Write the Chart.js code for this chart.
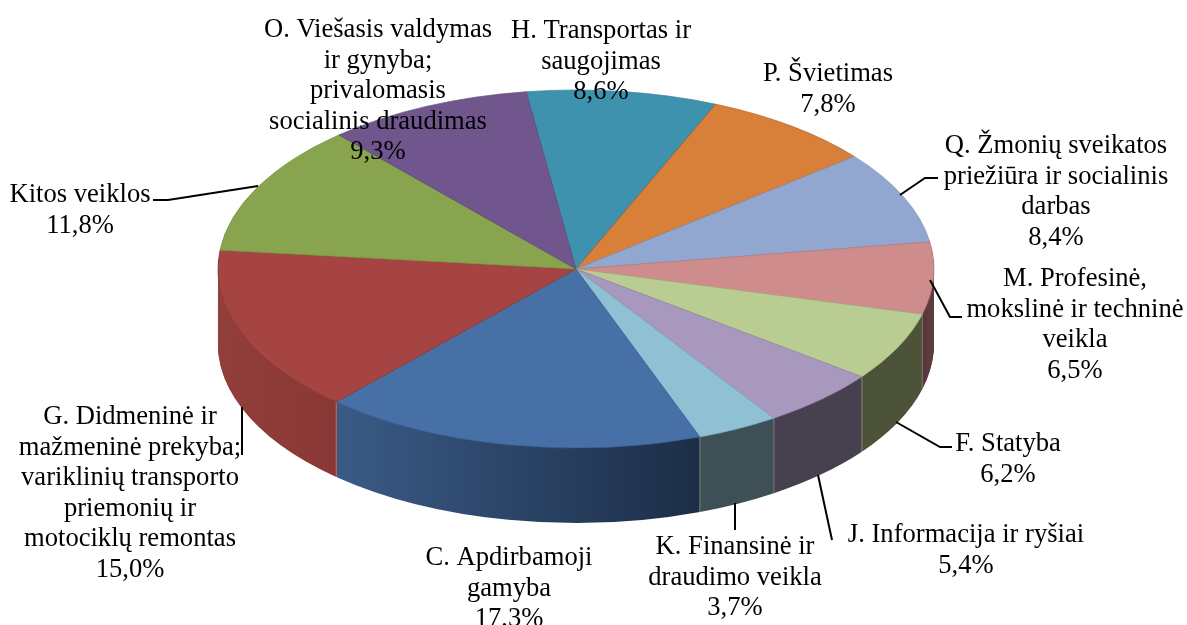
<!DOCTYPE html>
<html>
<head>
<meta charset="utf-8">
<script src="https://cdn.jsdelivr.net/npm/chart.js@4"></script>
<style>
  body { margin: 0; background: #fff; }
  canvas { display: block; }
</style>
</head>
<body>
<canvas id="pie3d" width="1187" height="625"></canvas>
<script>
// Slices, clockwise, starting from the H/O border
const categories = [
  "H. Transportas ir\nsaugojimas",
  "P. Švietimas",
  "Q. Žmonių sveikatos\npriežiūra ir socialinis\ndarbas",
  "M. Profesinė,\nmokslinė ir techninė\nveikla",
  "F. Statyba",
  "J. Informacija ir ryšiai",
  "K. Finansinė ir\ndraudimo veikla",
  "C. Apdirbamoji\ngamyba",
  "G. Didmeninė ir\nmažmeninė prekyba;\nvariklinių transporto\npriemonių ir\nmotociklų remontas",
  "Kitos veiklos",
  "O. Viešasis valdymas\nir gynyba;\nprivalomasis\nsocialinis draudimas",
];
const shares = [8.6, 7.8, 8.4, 6.5, 6.2, 5.4, 3.7, 17.3, 15.0, 11.8, 9.3];

const topColors = ["#3f92ad", "#d8803a", "#92a7cf", "#cf8c8c", "#b9cd92", "#a898bd", "#8fc0d3", "#4670a6", "#a54442", "#88a44e", "#70568c"];
const edgeColors = ["#37809a", "#a8602a", "#8197bf", "#b97c7c", "#a5b982", "#9687aa", "#7fadc0", "#3d6293", "#8a4024", "#7a9445", "#644d7e"];
// side wall colours at the start and the end of each slice's arc
const sideStart = ["#2c677a", "#98592a", "#66758f", "#5e3c3e", "#4d5339", "#46404f", "#3e5056", "#1c2d46", "#893835", "#5f7336", "#4e3c62"];
const sideEnd = ["#2c677a", "#98592a", "#66758f", "#553638", "#4d5339", "#46404f", "#3e5056", "#3a5b87", "#923e3a", "#5f7336", "#4e3c62"];

// Label layout: centre x and middle of the first line
const labelX = [601, 828, 1056, 1075, 1008, 966, 735, 509, 130, 80, 378];
const labelY = [31, 74, 146, 279, 444, 535, 547, 558, 417, 195, 30];
const lineHeight = 30.6;

// Leader lines as x, y, x, y ...
const leaders = [
  [153, 200, 168, 200, 258, 186],
  [900, 195, 925, 178, 938, 178],
  [930, 280, 950, 317, 962, 317],
  [896, 422, 940, 447, 952, 447],
  [818, 475, 832, 540],
  [735, 503, 735, 530],
  [242, 407, 242, 455],
];

// Ellipse geometry of the tilted pie
const pieX = 576;
const pieY = 269;
const radiusX = 358;
const radiusY = 179;
const depth = 75;

function percentText(value) {
  return value.toFixed(1).replace(".", ",") + "%";
}

// Run draw() with the chart's round pie mapped onto the tilted ellipse
function withTilt(ctx, arc, dy, draw) {
  const R = arc.outerRadius;
  ctx.save();
  ctx.translate(pieX, pieY + dy);
  ctx.scale(radiusX / R, radiusY / R);
  ctx.translate(-arc.x, -arc.y);
  draw();
  ctx.restore();
}

function drawWith(ctx, arc, overrides) {
  const saved = arc.options;
  const props = {};
  Object.keys(overrides).forEach((k) => {
    props[k] = { value: overrides[k] };
  });
  arc.options = Object.create(saved, props);
  arc.draw(ctx);
  arc.options = saved;
}

const pie3dPlugin = {
  id: "pie3d",
  beforeDatasetsDraw(chart) {
    const ctx = chart.ctx;
    const arcs = chart.getDatasetMeta(0).data;
    const first = arcs[0];
    const fills = arcs.map((arc, i) => {
      const x0 = arc.x + arc.outerRadius * Math.cos(arc.startAngle);
      const x1 = arc.x + arc.outerRadius * Math.cos(arc.endAngle);
      const grad = ctx.createLinearGradient(x0, 0, x1 === x0 ? x0 + 1 : x1, 0);
      grad.addColorStop(0, sideStart[i]);
      grad.addColorStop(1, sideEnd[i]);
      return grad;
    });

    // side wall: the same slices stacked from the bottom up
    for (let dy = depth; dy >= 1; dy--) {
      withTilt(ctx, first, dy, () => {
        arcs.forEach((arc, i) => {
          drawWith(ctx, arc, { backgroundColor: fills[i], borderWidth: 0 });
        });
      });
    }

    // faint light seams where two front slices meet on the wall
    ctx.save();
    ctx.strokeStyle = "rgba(255,255,255,0.3)";
    ctx.lineWidth = 1;
    arcs.forEach((arc) => {
      const a = arc.startAngle;
      if (Math.sin(a) > 0.02) {
        const x = pieX + radiusX * Math.cos(a);
        const y = pieY + radiusY * Math.sin(a);
        ctx.beginPath();
        ctx.moveTo(x, y);
        ctx.lineTo(x, y + depth);
        ctx.stroke();
      }
    });
    ctx.restore();

    // top face
    withTilt(ctx, first, 0, () => {
      arcs.forEach((arc) => arc.draw(ctx));
    });
    return false;
  },
  afterDraw(chart) {
    const ctx = chart.ctx;
    ctx.save();
    ctx.strokeStyle = "#000";
    ctx.lineWidth = 2;
    leaders.forEach((pts) => {
      ctx.beginPath();
      ctx.moveTo(pts[0], pts[1]);
      for (let i = 2; i < pts.length; i += 2) {
        ctx.lineTo(pts[i], pts[i + 1]);
      }
      ctx.stroke();
    });

    ctx.fillStyle = "#000";
    ctx.font = '26.6px "Liberation Serif"';
    ctx.textAlign = "center";
    ctx.textBaseline = "middle";
    categories.forEach((name, i) => {
      const lines = name.split("\n").concat(percentText(shares[i]));
      lines.forEach((line, n) => {
        ctx.fillText(line, labelX[i], labelY[i] + n * lineHeight);
      });
    });
    ctx.restore();
  },
};

new Chart(document.getElementById("pie3d"), {
  type: "pie",
  data: {
    labels: categories,
    datasets: [
      {
        data: shares,
        backgroundColor: topColors,
        borderColor: edgeColors,
        borderWidth: 0.8,
      },
    ],
  },
  options: {
    responsive: false,
    animation: false,
    rotation: -8,
    plugins: { legend: { display: false }, tooltip: { enabled: false } },
  },
  plugins: [pie3dPlugin],
});
</script>
</body>
</html>
